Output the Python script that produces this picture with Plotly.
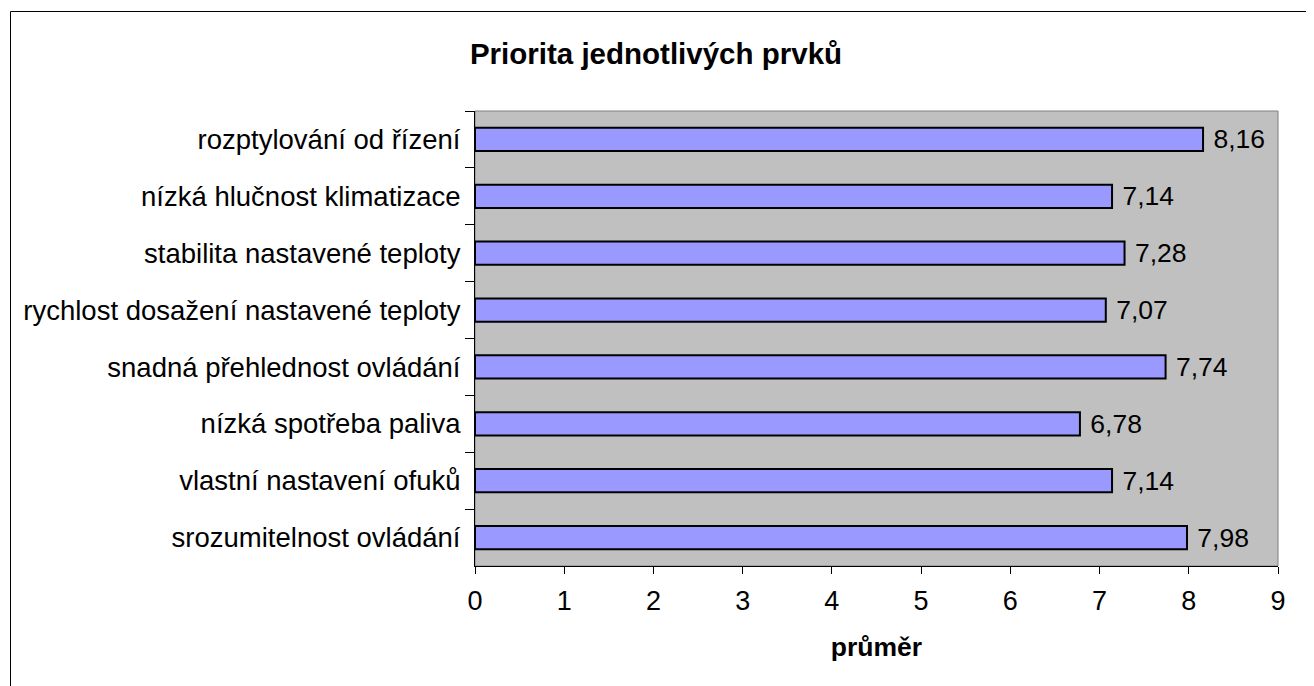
import plotly.graph_objects as go

categories = [
    "rozptylování od řízení",
    "nízká hlučnost klimatizace",
    "stabilita nastavené teploty",
    "rychlost dosažení nastavené teploty",
    "snadná přehlednost ovládání",
    "nízká spotřeba paliva",
    "vlastní nastavení ofuků",
    "srozumitelnost ovládání",
]
values = [8.16, 7.14, 7.28, 7.07, 7.74, 6.78, 7.14, 7.98]
x_ticks = [0, 1, 2, 3, 4, 5, 6, 7, 8, 9]
title_text = "Priorita jednotlivých prvků"
x_title = "průměr"

labels = [" " + f"{v:.2f}".replace(".", ",") for v in values]

# page has an 8px body margin; figure coordinates are page coordinates minus 8
OFF = 8
W, H = 1314 - OFF, 686 - OFF
L, R, T, B = 475 - OFF, 1278 - OFF, 111 - OFF, 566 - OFF
FONT = "Liberation Sans, Arial"

fig = go.Figure()
fig.add_trace(go.Bar(
    x=values, y=categories, orientation="h",
    marker=dict(color="#9999FF", line=dict(color="black", width=2)),
    text=labels, textposition="outside", cliponaxis=False, constraintext="none",
    textfont=dict(family=FONT, size=26.5, color="black"),
    outsidetextfont=dict(family=FONT, size=26.5, color="black"),
    width=0.41,
))

def px_x(p):
    return (p - L) / (R - L)

def px_y(p):
    return (B - p) / (B - T)

fig.update_layout(
    width=W, height=H,
    margin=dict(l=L, r=W - R, t=T, b=H - B, pad=0),
    paper_bgcolor="white",
    plot_bgcolor="#C0C0C0",
    showlegend=False,
    uniformtext=dict(mode=False),
    font=dict(family=FONT, size=27, color="black"),
    title=dict(text=f"<b>{title_text}</b>", x=(656 - OFF) / W, xref="container", xanchor="center",
               y=1 - (54 - OFF) / H, yref="container", yanchor="middle",
               font=dict(size=29.5, family=FONT, color="black")),
    xaxis=dict(range=[0, 9], tickvals=x_ticks, ticktext=[str(t) for t in x_ticks],
               showgrid=False, zeroline=False, showline=True, linecolor="black", linewidth=1,
               ticks="outside", ticklen=7, tickcolor="black", tickfont=dict(size=27),
               ticklabelstandoff=4,
               title=dict(text=f"<b>{x_title}</b>", font=dict(size=26.5), standoff=22)),
    yaxis=dict(autorange="reversed", type="category", showgrid=False, zeroline=False,
               showline=True, linecolor="black", linewidth=1,
               ticks="outside", tickson="boundaries", ticklen=9, tickcolor="black",
               tickfont=dict(size=27.5), ticklabelstandoff=8),
    shapes=[
        dict(type="rect", xref="paper", yref="paper", x0=0, x1=1, y0=0, y1=1,
             line=dict(color="#808080", width=1), layer="below"),
        dict(type="rect", xref="paper", yref="paper",
             x0=px_x(10.5 - OFF), x1=px_x(1310.5 - OFF), y0=px_y(700), y1=px_y(11.5 - OFF),
             line=dict(color="black", width=1), fillcolor="rgba(0,0,0,0)"),
    ],
)

fig.write_html("out.html")
